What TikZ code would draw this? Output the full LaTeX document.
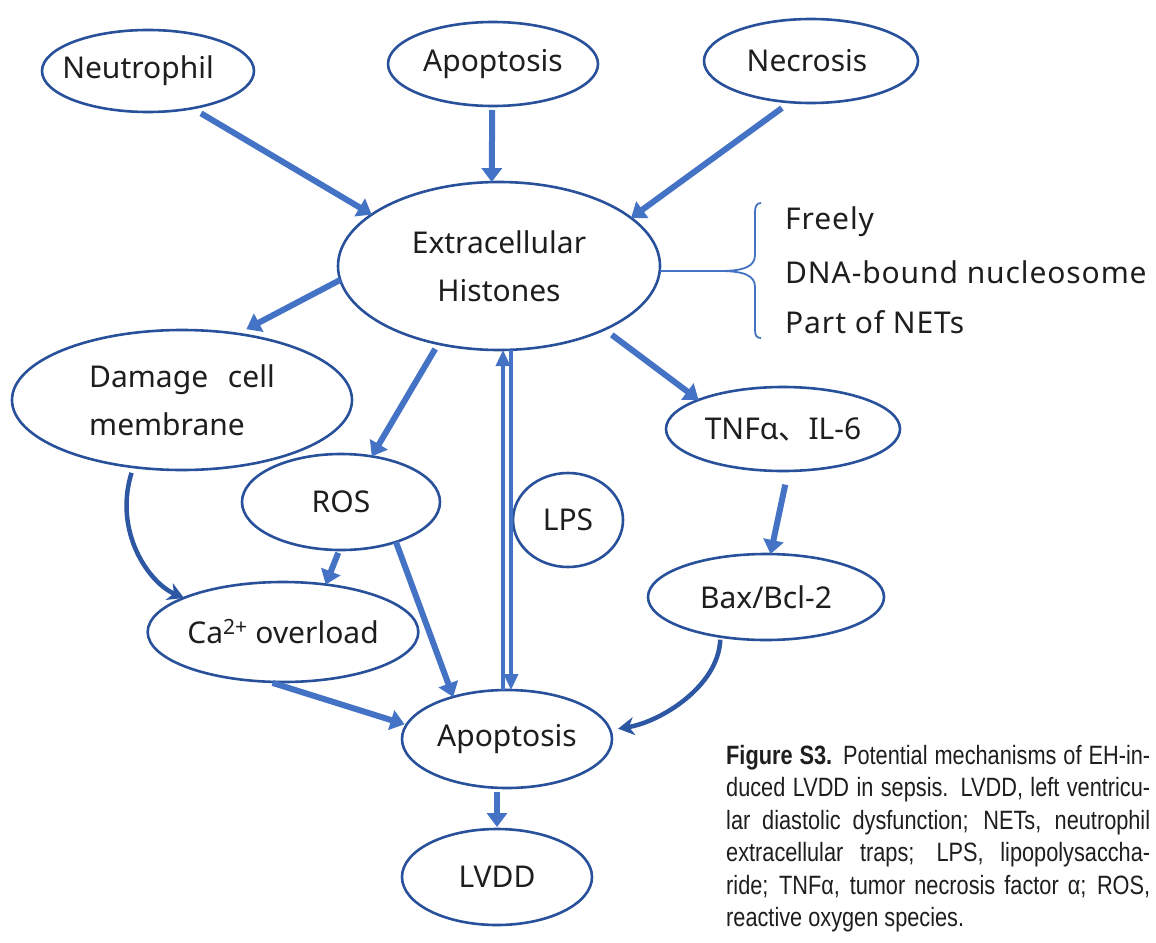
\documentclass[tikz,border=0pt]{standalone}
\usepackage{fontspec}
\setmainfont{Noto Sans}
\newfontfamily\cjk{Noto Sans CJK SC}
\newfontfamily\listfont[LetterSpace=3]{Noto Sans}
\newfontfamily\capfont[FakeStretch=0.82]{Liberation Sans}
\usetikzlibrary{shapes.geometric,arrows.meta,calc}
\definecolor{edgeblue}{RGB}{40,80,155}
\definecolor{arrblue}{RGB}{68,114,196}
\definecolor{txt}{RGB}{30,30,30}
\begin{document}
\begin{tikzpicture}[x=1pt,y=-1pt,
  el/.style={ellipse,draw=edgeblue,line width=2.6pt,inner sep=0pt,outer sep=0pt,
    text=txt,font=\fontsize{30}{48}\selectfont,align=center},
  arrow/.style={draw=arrblue,line width=6pt,-{Triangle[width=20pt,length=14pt]}},
  thinarrow/.style={draw=arrblue,line width=3.5pt,-{Triangle[width=14pt,length=16pt]}},
  curvearrow/.style={draw=edgeblue!80!arrblue,line width=4.5pt,-{Stealth[width=18pt,length=16pt,inset=5pt]}},
  bracestyle/.style={draw=arrblue,line width=1.8pt},
  listtext/.style={anchor=west,text=txt,font=\listfont\fontsize{30}{34}\selectfont,inner sep=0pt},
  captext/.style={anchor=north west,text=txt,inner sep=0pt,align=left,
    font=\capfont\fontsize{26.5}{32.5}\selectfont}
]
\useasboundingbox (0,0) rectangle (1156,942);
\fill[white] (0,0) rectangle (1156,942);

% nodes
\node[el,minimum width=212pt,minimum height=82pt] (neut) at (148,71) {\makebox[0pt]{Neutrophil\hspace*{20pt}}};
\node[el,minimum width=210pt,minimum height=84pt] (apo1) at (493,64) {Apoptosis};
\node[el,minimum width=214pt,minimum height=84pt] (necr) at (811,61) {\makebox[0pt]{Necrosis\hspace*{8pt}}};
\node[el,minimum width=322pt,minimum height=168pt] (hist) at (499,266) {Extracellular\\Histones};
\node[el,minimum width=340pt,minimum height=140pt,align=left] (dmg) at (182,400) {Damage\hspace{0.4em} cell\\membrane};
\node[el,minimum width=198pt,minimum height=96pt] (ros) at (341,502) {ROS};
\node[el,minimum width=110pt,minimum height=94pt] (lps) at (568,520) {LPS};
\node[el,minimum width=234pt,minimum height=84pt] (tnf) at (783,429) {TNFα{\cjk 、}IL-6};
\node[el,minimum width=236pt,minimum height=86pt] (bax) at (766,597) {Bax/Bcl-2};
\node[el,minimum width=262pt,minimum height=100pt] (ca) at (283,632) {Ca\textsuperscript{2+} overload};
\node[el,minimum width=210pt,minimum height=98pt] (apo2) at (507,739) {Apoptosis};
\node[el,minimum width=190pt,minimum height=96pt] (lvdd) at (497,877) {LVDD};

% list with brace
\node[listtext] (fr) at (785,222) {Freely};
\node[listtext] (dna) at (785,272) {DNA-bound nucleosome};
\node[listtext] (net) at (785,322) {Part of NETs};
\coordinate (btip) at (720,271);
\draw[bracestyle] ([yshift=-5pt]hist.east) -- (btip)
  .. controls (745,271) and (755,266) .. (755,255) -- (755,212)
  .. controls (755,206) and (757,203) .. (761,203);
\draw[bracestyle] (btip)
  .. controls (745,271) and (755,276) .. (755,287) -- (755,330)
  .. controls (755,336) and (757,338) .. (761,338);

% straight arrows
\draw[arrow,shorten <=10pt] (neut.-40) -- (hist.158);
\draw[arrow,shorten <=4pt] (apo1.-91) -- (hist.95);
\draw[arrow,shorten <=10pt] (necr.-117) -- (hist.20);
\draw[arrow,shorten >=10pt] (hist.185) -- (dmg.50);
\draw[arrow,shorten <=6pt] (hist.-128) -- (ros.56);
\draw[arrow,shorten <=9pt] (hist.-31) -- (tnf.161);
\draw[arrow,shorten <=14pt] (tnf.-83) -- (bax.84);
\draw[arrow,shorten <=3pt] (ros.-92) -- (ca.48);
\draw[arrow] (ros.-36) -- (apo2.142);
\draw[arrow,shorten <=4pt,shorten >=2pt] (ca.-106) -- (apo2.172);
\draw[arrow,shorten <=4pt,shorten >=2pt] (apo2.south -| lvdd.north) -- (lvdd.north);

% double arrow
\draw[thinarrow] ([xshift=-4pt]apo2.north) -- ([xshift=-4pt]apo2.north |- hist.south);
\draw[thinarrow] ([xshift=4pt]apo2.north |- hist.south) -- ([xshift=4pt]apo2.north);

% curved arrows
\draw[curvearrow,shorten <=6pt] (dmg.-126) .. controls +(-20,65) and +(-35,-15) .. (ca.161);
\draw[curvearrow,shorten <=3pt,shorten >=8pt] (bax.-139) .. controls +(-2,50) and +(50,-8) .. (apo2.5);

% caption
\node[captext] (cap) at (726,745) {%
\makebox[424pt][s]{\textbf{Figure S3.} Potential mechanisms of EH-in-}\\
\makebox[424pt][s]{duced LVDD in sepsis. LVDD, left ventricu-}\\
\makebox[424pt][s]{lar diastolic dysfunction; NETs, neutrophil}\\
\makebox[424pt][s]{extracellular traps; LPS, lipopolysaccha-}\\
\makebox[424pt][s]{ride; TNFα, tumor necrosis factor α; ROS,}\\
reactive oxygen species.};
\end{tikzpicture}
\end{document}
